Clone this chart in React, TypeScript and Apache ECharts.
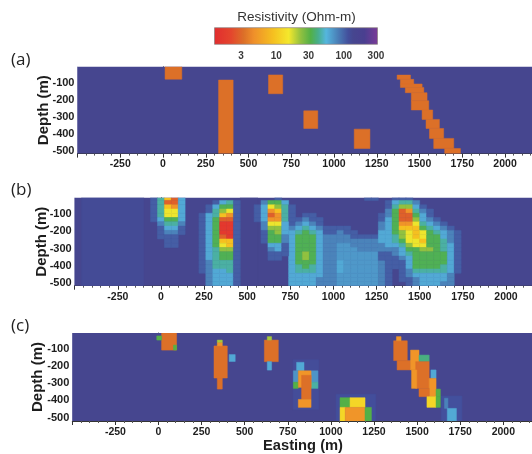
import React, { useEffect, useRef } from "react";
import * as echarts from "echarts";

// ---------- tick labels ----------
const eastingTicks = [-250, 0, 250, 500, 750, 1000, 1250, 1500, 1750, 2000];
const depthTicks = [-500, -400, -300, -200, -100];
const depthMinorTicks = [-520, -500, -480, -460, -440, -420, -400, -380, -360, -340, -320, -300, -280, -260, -240, -220, -200, -180, -160, -140, -120, -100, -80, -60, -40, -20];
const colorbarTicks = [3, 10, 30, 100, 300];

// ---------- resistivity (Ohm-m) used in the panels ----------
const BG = 137;
const COND = 3.3;
const AMBER = 5;
const YEL = 12;
const YG = 21;
const GRN = 32;
const CYN = 60;

// ---------- panel (a): [east0, east1, depth0, depth1, ohm-m] ----------
const blocksA: number[][] = [
  [-500, 2250, 0, 525, BG],
  [12, 110, 0, 85, COND],
  [325, 410, 90, 525, COND],
  [617, 700, 60, 170, COND],
  [823, 905, 270, 373, COND],
  [1118, 1210, 377, 490, COND],
  [1369, 1447, 61, 86, COND],
  [1388, 1466, 86, 113, COND],
  [1388, 1515, 113, 133, COND],
  [1417, 1525, 133, 164, COND],
  [1452, 1544, 164, 211, COND],
  [1452, 1554, 211, 265, COND],
  [1515, 1577, 265, 320, COND],
  [1538, 1616, 320, 373, COND],
  [1558, 1641, 373, 431, COND],
  [1583, 1700, 431, 490, COND],
  [1647, 1739, 490, 525, COND],
];

// ---------- panel (c) ----------
const blocksC: number[][] = [
  [-500, 2250, 0, 530, BG],
  [1030, 1260, 370, 530, 118],
  [780, 930, 170, 460, 120],
  [1640, 1760, 380, 530, 115],
  [18, 105, 0, 114, COND],
  [-10, 18, 32, 56, GRN],
  [87, 105, 85, 114, GRN],
  [322, 399, 90, 276, COND],
  [341, 370, 56, 72, YG],
  [341, 370, 72, 90, AMBER],
  [341, 370, 276, 340, COND],
  [410, 445, 140, 180, CYN],
  [614, 695, 56, 181, COND],
  [631, 656, 36, 56, YG],
  [631, 656, 181, 230, CYN],
  [801, 844, 185, 234, CYN],
  [782, 811, 234, 300, 70],
  [782, 811, 300, 336, GRN],
  [885, 925, 234, 300, 70],
  [885, 925, 300, 336, 45],
  [811, 885, 234, 330, AMBER],
  [830, 885, 260, 400, COND],
  [811, 885, 400, 446, AMBER],
  [1053, 1111, 390, 446, GRN],
  [1111, 1198, 390, 446, YEL],
  [1053, 1083, 446, 530, YEL],
  [1083, 1198, 446, 530, AMBER],
  [1198, 1235, 446, 530, GRN],
  [1364, 1443, 60, 175, COND],
  [1380, 1407, 36, 60, AMBER],
  [1384, 1462, 175, 229, COND],
  [1462, 1511, 114, 229, AMBER],
  [1511, 1570, 143, 181, 40],
  [1492, 1570, 181, 336, COND],
  [1468, 1498, 229, 336, AMBER],
  [1580, 1610, 229, 278, CYN],
  [1570, 1610, 278, 384, AMBER],
  [1511, 1570, 336, 384, COND],
  [1610, 1635, 340, 384, GRN],
  [1557, 1610, 384, 446, YEL],
  [1610, 1635, 384, 446, GRN],
  [1659, 1679, 393, 452, 80],
  [1675, 1728, 452, 530, CYN],
];

// ---------- panel (b): level characters -> ohm-m ----------
const levelChars = "0123456789ABm";
const levelOhm = [137, 104, 79, 60, 45, 34, 23, 15.7, 9, 4.9, 2.8, 1.6, 68];
const CELL_E = 40;
const CELL_D = 25;
const ORIGIN_E = -500;

// each body: first column, first row, then rows of levels
const bodyB1 = { col: 10, row: 0, cells: ["0148A30", "014AA30", "0148930", "0147730", "0147730", "0135530", "0024420", "0013310", "0012210", "0011100", "0001100", "0001100"] };
const bodyB2 = { col: 17, row: 1, cells: ["00013410", "00135510", "00146710", "01348910", "0135AA10", "0135BB10", "0135BB10", "0135BB10", "0135AB10", "01358810", "01357810", "01346610", "01345510", "01345510", "01244410", "01244410", "01233410", "00233310", "00233310", "00233310"] };
const bodyB3 = { col: 26, row: 0, cells: ["000100", "025530", "137641", "139841", "13A941", "139941", "027730", "026630", "015630", "015520", "015520", "003310", "002310", "001110", "001100"] };
const bodyB4 = { col: 29, row: 4, cells: ["00001100", "00012110", "00123210", "00234321", "00345431", "00355532", "00355532", "00355532", "00355532", "00356532", "00356532", "00355532", "00345432", "00344432", "00333332", "00333322", "00333322"] };
const bodyB5 = { col: 37, row: 7, cells: ["111000000", "121100001", "222111112", "222222222", "2mm222222", "2mmm222mm", "2mmmmmm22", "2mmmmmm21", "23mmmmm21", "23mmmmm21", "23mmmmm21", "2mmmmmm21", "2mmmmmm21", "2mmmmmm21"] };
const bodyB6 = { col: 44, row: 0, cells: ["0011100000000", "0134420000000", "0146631000000", "025A942100000", "125AA53100000", "135AA63210000", "2359974321000", "2358885432100", "3356787543210", "3346787553210", "3345778554210", "2334677554310", "2223556654310", "1123455555310", "1112355555310", "0011355555310", "0011355554310", "0001244444310", "0001233333200", "0001123333200", "0000123332200"] };
const bodyB7 = { col: 42, row: 0, cells: ["11"] };
const bodiesB = [bodyB4, bodyB5, bodyB1, bodyB2, bodyB3, bodyB6, bodyB7];
const shadesB: number[][] = [
  [-500, 2250, 0, 530, BG],
  [-460, -100, 0, 530, 125],
  [460, 560, 0, 530, 140],
];

function expandBody(b: { col: number; row: number; cells: string[] }): number[][] {
  const out: number[][] = [];
  b.cells.forEach((line, r) => {
    line.split("").forEach((ch, c) => {
      const lvl = levelChars.indexOf(ch);
      if (lvl <= 0) return;
      const e0 = ORIGIN_E + (b.col + c) * CELL_E;
      const d0 = (b.row + r) * CELL_D;
      out.push([e0, e0 + CELL_E, d0, d0 + CELL_D, levelOhm[lvl]]);
    });
  });
  return out;
}
const blocksB: number[][] = [...shadesB, ...bodiesB.flatMap(expandBody)];

// ---------- colour map ----------
const LOG_MIN = 0.083;
const LOG_MAX = 2.5;
const colorStops: [number, string][] = [
  [0, "#e12d2f"], [0.1, "#e4452d"], [0.18, "#dc7028"], [0.24, "#ef8f2a"], [0.36, "#f5c020"],
  [0.455, "#f4e82c"], [0.53, "#90c040"], [0.59, "#52b047"], [0.635, "#47ae8a"], [0.685, "#55b6de"],
  [0.755, "#4a80b8"], [0.82, "#434f9c"], [0.85, "#46468f"], [0.92, "#4a3f90"], [1, "#7a3a98"],
];
function hex(c: string) {
  return [1, 3, 5].map((i) => parseInt(c.slice(i, i + 2), 16));
}
function ohmColor(v: number) {
  const f = Math.min(1, Math.max(0, (Math.log10(v) - LOG_MIN) / (LOG_MAX - LOG_MIN)));
  for (let i = 1; i < colorStops.length; i++) {
    if (f <= colorStops[i][0]) {
      const [f0, c0] = colorStops[i - 1];
      const [f1, c1] = colorStops[i];
      const t = (f - f0) / (f1 - f0);
      const a = hex(c0);
      const b = hex(c1);
      return `rgb(${a.map((x, k) => Math.round(x + (b[k] - x) * t)).join(",")})`;
    }
  }
  return colorStops[colorStops.length - 1][1];
}

const INK = "#1d1d1d";
const FONT = '"Liberation Sans", Arial, sans-serif';

const panels = [
  { key: "a", blocks: blocksA, left: 77.5, top: 66.7, width: 470.3, height: 86.9, dMin: -520, dMax: -12, nameGap: 28, labelGap: 4 },
  { key: "b", blocks: blocksB, left: 74.7, top: 197.7, width: 474.4, height: 88, dMin: -523, dMax: -9, nameGap: 27, labelGap: 5 },
  { key: "c", blocks: blocksC, left: 72.3, top: 333, width: 474.1, height: 88, dMin: -525, dMax: -15, nameGap: 28, labelGap: 4 },
];

function renderBlock(_: any, api: any) {
  const e0 = api.value(0);
  const e1 = api.value(1);
  const d0 = api.value(2);
  const d1 = api.value(3);
  const p0 = api.coord([e0, d0]);
  const p1 = api.coord([e1, d1]);
  const fill = ohmColor(api.value(4));
  return {
    type: "rect",
    shape: { x: p0[0], y: p0[1], width: p1[0] - p0[0], height: p1[1] - p0[1] },
    style: { fill, stroke: fill, lineWidth: 0.5 },
  };
}

function buildOption(): any {
  const grid: any[] = [];
  const xAxis: any[] = [];
  const yAxis: any[] = [];
  const series: any[] = [];
  panels.forEach((p, i) => {
    grid.push({ left: p.left, top: p.top, width: p.width, height: p.height, outerBoundsMode: "none" });
    xAxis.push({
      type: "value", gridIndex: i, min: -500, max: 2250, interval: 250,
      splitLine: { show: false },
      axisLine: { lineStyle: { color: "#333", width: 1 } },
      axisTick: { length: 4, lineStyle: { color: "#333" } },
      minorTick: { show: true, splitNumber: 5, length: 2, lineStyle: { color: "#555" } },
      axisLabel: { customValues: eastingTicks, formatter: (v: number) => String(v), color: INK, fontFamily: FONT, fontSize: 10.5, fontWeight: "bold", margin: p.labelGap },
    });
    yAxis.push({
      type: "value", gridIndex: i, min: p.dMin, max: p.dMax,
      name: "Depth (m)", nameLocation: "middle", nameGap: p.nameGap, nameMoveOverlap: false,
      nameTextStyle: { color: INK, fontFamily: FONT, fontSize: 15, fontWeight: "bold" },
      splitLine: { show: false },
      axisLine: { show: true, lineStyle: { color: "#555", width: 1 } },
      axisTick: { customValues: depthTicks, length: 4, lineStyle: { color: "#333" } },
      axisLabel: { customValues: depthTicks, formatter: (v: number) => String(v), color: INK, fontFamily: FONT, fontSize: 11, fontWeight: "bold", margin: 3 },
    });
    series.push({
      type: "custom", xAxisIndex: i, yAxisIndex: i * 2, clip: true, silent: true,
      renderItem: renderBlock,
      encode: { x: [0, 1], y: [2, 3] },
      data: p.blocks.map((b) => [b[0], b[1], -b[2], -b[3], b[4]]),
    });
    yAxis.push({
      type: "value", gridIndex: i, min: p.dMin, max: p.dMax,
      splitLine: { show: false }, axisLine: { show: false },
      axisTick: { customValues: depthMinorTicks, length: 2, lineStyle: { color: "#555" } },
      axisLabel: { show: false },
    });
  });

  // colour bar
  grid.push({ left: 214.5, top: 27.7, width: 163, height: 16.6, outerBoundsMode: "none" });
  xAxis.push({
    type: "value", gridIndex: 3, min: LOG_MIN, max: LOG_MAX,
    splitLine: { show: false }, axisLine: { show: false }, axisTick: { show: false },
    axisLabel: {
      customValues: colorbarTicks.map((v) => Math.log10(v)),
      formatter: (v: number) => String(Math.round(Math.pow(10, v))),
      color: "#3a3a3a", fontFamily: FONT, fontSize: 10, fontWeight: "bold", margin: 6,
    },
  });
  yAxis.push({ type: "value", gridIndex: 3, min: 0, max: 1, show: false });
  series.push({
    type: "custom", xAxisIndex: 3, yAxisIndex: 6, silent: true,
    encode: { x: [0, 1], y: [2, 3] },
    data: [[LOG_MIN, LOG_MAX, 1, 0]],
    renderItem: (_: any, api: any) => {
      const p0 = api.coord([api.value(0), api.value(2)]);
      const p1 = api.coord([api.value(1), api.value(3)]);
      return {
        type: "rect",
        shape: { x: p0[0], y: p0[1], width: p1[0] - p0[0], height: p1[1] - p0[1] },
        style: {
          fill: new echarts.graphic.LinearGradient(0, 0, 1, 0, colorStops.map(([offset, color]) => ({ offset, color }))),
          stroke: "#8a7f7f", lineWidth: 0.7,
        },
      };
    },
  });

  return {
    animation: false,
    backgroundColor: "#ffffff",
    title: {
      text: "Resistivity (Ohm-m)", left: 296.5, top: 9, textAlign: "center", padding: 0,
      textStyle: { color: "#333", fontFamily: FONT, fontSize: 13.5, fontWeight: "normal" },
    },
    grid, xAxis, yAxis, series,
    graphic: [
      { type: "text", left: 11, top: 50, style: { text: "(a)", fill: "#222", font: '17px "Open Sans", sans-serif' } },
      { type: "text", left: 11, top: 180, style: { text: "(b)", fill: "#222", font: '17px "Open Sans", sans-serif' } },
      { type: "text", left: 11, top: 316, style: { text: "(c)", fill: "#222", font: '17px "Open Sans", sans-serif' } },
      { type: "text", left: 263, top: 437, style: { text: "Easting (m)", fill: INK, font: 'bold 14.7px "Liberation Sans", Arial, sans-serif' } },
    ],
  };
}

export default function App() {
  const ref = useRef<HTMLDivElement>(null);
  useEffect(() => {
    document.body.style.margin = "0";
    const chart = echarts.init(ref.current!, undefined, { renderer: "svg" });
    chart.setOption(buildOption());
    return () => chart.dispose();
  }, []);
  return <div ref={ref} style={{ width: 532, height: 454, overflow: "hidden", filter: "blur(0.7px)" }} />;
}
